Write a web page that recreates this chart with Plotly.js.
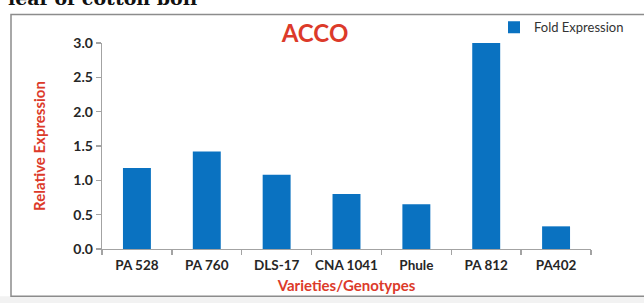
<!DOCTYPE html>
<html>
<head>
<meta charset="utf-8">
<script src="https://cdn.plot.ly/plotly-3.0.1.min.js"></script>
<style>html,body{margin:0;padding:0;background:#fff;}#chart{width:644px;height:303px;}</style>
</head>
<body>
<div id="chart"></div>
<script>
// Data
var categories = ["PA 528", "PA 760", "DLS-17", "CNA 1041", "Phule", "PA 812", "PA402"];
var foldExpression = [1.18, 1.42, 1.08, 0.80, 0.65, 3.00, 0.33];
var seriesName = "Fold Expression";
var yTickValues = [0, 0.5, 1.0, 1.5, 2.0, 2.5, 3.0];
var chartTitle = "ACCO";
var xTitle = "Varieties/Genotypes";
var yTitle = "Relative Expression";
var captionAbove = "leaf of cotton boll";

var FONT = "Lato, 'Open Sans', sans-serif";
var RED = "#dc3a2a";
var AXIS = "#a3a3a3";

var trace = {
  type: "bar",
  x: categories,
  y: foldExpression,
  name: seriesName,
  marker: {color: "#0a72c1"},
  showlegend: true
};

var L = 102, R = 53, T = 40, B = 54;
var W = 644 - L - R, H = 303 - T - B;
function px(x){ return (x - L) / W; }
function py(y){ return (303 - B - y) / H; }

var layout = {
  width: 644, height: 303,
  margin: {l: L, r: R, t: T, b: B, pad: 0},
  paper_bgcolor: "#ffffff",
  plot_bgcolor: "#ffffff",
  bargap: 0.6,
  showlegend: true,
  title: {
    text: chartTitle,
    font: {family: FONT, size: 24, color: RED, weight: "bold"},
    x: px(315), xanchor: "center", xref: "paper",
    y: 1 - 34/303, yanchor: "middle", yref: "container"
  },
  legend: {
    x: px(494), xanchor: "left",
    y: py(24), yanchor: "middle",
    font: {family: FONT, size: 13, color: "#333333"},
    bgcolor: "rgba(0,0,0,0)",
    itemwidth: 30
  },
  xaxis: {
    type: "category",
    showline: true, linecolor: AXIS, linewidth: 1.3,
    ticks: "outside", ticklen: 5, tickcolor: AXIS, tickwidth: 1.3,
    tickson: "boundaries",
    tickangle: 0,
    ticklabelstandoff: 3,
    showgrid: false, zeroline: false,
    tickfont: {family: FONT, size: 13.5, color: "#262626", weight: "bold"},
    title: {text: xTitle, standoff: 9,
      font: {family: FONT, size: 15, color: RED, weight: "bold"}},
    automargin: false
  },
  yaxis: {
    range: [0, 3],
    tickvals: yTickValues,
    tickformat: ".1f",
    showline: true, linecolor: AXIS, linewidth: 1.3,
    ticks: "outside", ticklen: 5, tickcolor: AXIS, tickwidth: 1.3,
    showgrid: false, zeroline: false,
    tickfont: {family: FONT, size: 14, color: "#262626", weight: "bold"},
    title: {text: yTitle, standoff: 24,
      font: {family: FONT, size: 15, color: RED, weight: "bold"}},
    automargin: false
  },
  shapes: [
    {type: "rect", xref: "paper", yref: "paper",
     x0: px(-5), x1: px(660), y0: py(297), y1: py(310),
     fillcolor: "#f2f2f2", line: {width: 0}, layer: "below"},
    {type: "rect", xref: "paper", yref: "paper",
     x0: px(11), x1: px(660), y0: py(297), y1: py(11),
     fillcolor: "rgba(0,0,0,0)", line: {color: "#8c8c8c", width: 1.5}, layer: "below"}
  ],
  annotations: [
    {text: captionAbove, xref: "paper", yref: "paper",
     x: px(6), xanchor: "left", y: py(8), yanchor: "bottom",
     showarrow: false,
     font: {family: "'DejaVu Serif', serif", size: 19, color: "#111111", weight: "bold"}}
  ]
};

Plotly.newPlot("chart", [trace], layout, {displayModeBar: false, staticPlot: true});
</script>
</body>
</html>
